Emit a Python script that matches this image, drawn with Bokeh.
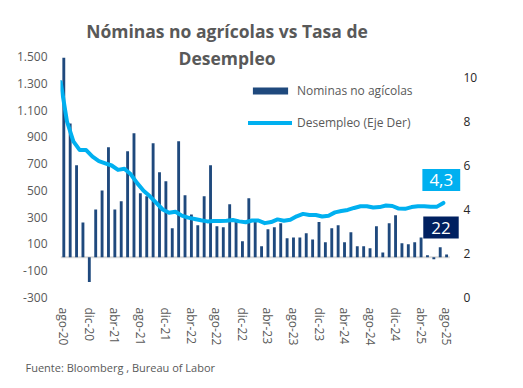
from bokeh.plotting import figure
from bokeh.models import (Range1d, LinearAxis, FixedTicker, Label, Legend, LegendItem, Title)
from bokeh.embed import file_html
from bokeh.resources import INLINE

# ---------------- data ----------------
month_abbr = ["ene", "feb", "mar", "abr", "may", "jun", "jul", "ago", "sep", "oct", "nov", "dic"]
months = [f"{month_abbr[(7 + k) % 12]}-{20 + (7 + k) // 12}" for k in range(61)]  # ago-20 .. ago-25

nominas = [1490, 1000, 687, 261, -184, 358, 500, 822, 358, 418,
           792, 926, 478, 456, 852, 635, 568, 217, 867, 463,
           320, 239, 456, 687, 232, 224, 396, 280, 120, 441,
           263, 82, 209, 224, 254, 142, 149, 149, 179, 134,
           263, 112, 217, 239, 112, 187, 82, 82, 67, 232,
           37, 254, 314, 105, 97, 112, 149, 15, -15, 75,
           22]

desempleo = [9.8, 8.0, 7.1, 6.7, 6.7, 6.4, 6.2, 6.1, 6.0, 5.8,
             5.85, 5.6, 5.2, 4.85, 4.6, 4.3, 4.0, 3.85, 3.9, 3.72,
             3.63, 3.57, 3.51, 3.46, 3.48, 3.48, 3.49, 3.52, 3.46, 3.42,
             3.5, 3.5, 3.38, 3.43, 3.55, 3.49, 3.53, 3.69, 3.8, 3.75,
             3.75, 3.68, 3.72, 3.87, 3.93, 3.98, 4.07, 4.15, 4.15, 4.09,
             4.11, 4.18, 4.16, 4.04, 4.03, 4.11, 4.15, 4.15, 4.12, 4.13,
             4.3]

left_ticks = [-300, -100, 100, 300, 500, 700, 900, 1100, 1300, 1500]
left_tick_labels = ["-300", "-100", "100", "300", "500", "700", "900", "1.100", "1.300", "1.500"]
right_ticks = [0, 2, 4, 6, 8, 10]
x_tick_labels = ["ago-20", "dic-20", "abr-21", "ago-21", "dic-21", "abr-22", "ago-22", "dic-22",
                 "abr-23", "ago-23", "dic-23", "abr-24", "ago-24", "dic-24", "abr-25", "ago-25"]

title_lines = ["Nóminas no agrícolas vs Tasa de", "Desempleo"]
footer = "Fuente: Bloomberg , Bureau of Labor"
legend_labels = ["Nominas no agícolas", "Desempleo (Eje Der)"]

BAR = "#1F497D"
LINE = "#00B0F0"
NAVY = "#002060"
GRAY = "#595959"
FONT = "Open Sans"

# ---------------- layout geometry (canvas px) ----------------
W, H = 523, 388
FL, FR, FT, FB = 60, 462, 4, 297       # frame edges
BAR0_PX, STEP_PX = 63.3, 6.38           # x pixel of first category, px per category
LEFT_PX_PER_UNIT = 241 / 1800           # left axis scale
RIGHT_PX_PER_UNIT = 22.0                # right axis scale

XMIN = (FL - BAR0_PX) / STEP_PX
XMAX = (FR - BAR0_PX) / STEP_PX
YMIN = -300
YMAX = YMIN + (FB - FT) / LEFT_PX_PER_UNIT
RMAX = (FB - FT) / RIGHT_PX_PER_UNIT


def dx(px):
    return XMIN + (px - FL) * (XMAX - XMIN) / (FR - FL)


def dy(py):
    return YMAX - (py - FT) * (YMAX - YMIN) / (FB - FT)


p = figure(width=W, height=H, output_backend="svg", toolbar_location=None,
           x_range=Range1d(XMIN, XMAX), y_range=Range1d(YMIN, YMAX),
           min_border_left=FL, min_border_right=W - FR, min_border_top=FT,
           min_border_bottom=H - FB)
p.extra_y_ranges = {"right": Range1d(0, RMAX)}
p.outline_line_color = None
p.xgrid.visible = False
p.ygrid.visible = False
p.background_fill_color = "white"
p.border_fill_color = "white"

idx = list(range(len(months)))

# zero baseline across the categories
p.line(x=[-0.5, len(months) - 0.5], y=[0, 0], line_color="#D9D9D9", line_width=2)
bars = p.vbar(x=idx, top=nominas, width=0.45, fill_color=BAR, line_color=None)
line = p.line(x=[i - 0.5 for i in idx], y=desempleo, y_range_name="right",
              line_color=LINE, line_width=4, line_cap="round", line_join="round")

# axes
xa = p.xaxis[0]
xa.ticker = FixedTicker(ticks=list(range(0, 61, 4)))
xa.major_label_overrides = {t: lab for t, lab in zip(range(0, 61, 4), x_tick_labels)}
xa.major_label_orientation = "vertical"
ya = p.yaxis[0]
ya.ticker = FixedTicker(ticks=left_ticks)
ya.major_label_overrides = {t: lab for t, lab in zip(left_ticks, left_tick_labels)}

ra = LinearAxis(y_range_name="right", ticker=FixedTicker(ticks=right_ticks))
p.add_layout(ra, "right")

for ax, col, standoff in ((xa, GRAY, 10), (ya, GRAY, 13), (ra, "#262626", 1)):
    ax.axis_line_color = None
    ax.major_tick_line_color = None
    ax.minor_tick_line_color = None
    ax.major_tick_out = 0
    ax.major_tick_in = 0
    ax.major_label_text_font = FONT
    ax.major_label_text_font_size = "12px"
    ax.major_label_text_color = col
    ax.major_label_standoff = standoff

# title (inside the frame area above the data)
tx = dx(226.5)
for txt, py in zip(title_lines, [30, 57]):
    p.add_layout(Label(x=tx, y=dy(py), text=txt, text_align="center", text_baseline="middle",
                       text_font=FONT, text_font_style="bold", text_font_size="17.5px",
                       text_color=GRAY))

# footer below the x axis
p.add_layout(Title(text=footer, align="left", offset=25 - FL, text_font=FONT,
                   text_font_size="11px", text_font_style="normal", text_color=GRAY,
                   standoff=19), "below")

# legend
legend = Legend(items=[LegendItem(label=legend_labels[0], renderers=[bars]),
                       LegendItem(label=legend_labels[1], renderers=[line])],
                location=(248 - FL, FB - 132), glyph_width=44, glyph_height=9, label_height=20,
                spacing=12, padding=0, margin=0, label_standoff=5,
                label_text_font=FONT, label_text_font_size="12px", label_text_color=GRAY,
                background_fill_alpha=0, border_line_color=None)
p.add_layout(legend)

# value boxes
last_u = f"{desempleo[-1]:.1f}".replace(".", ",")
last_n = f"{nominas[-1]}"
p.add_layout(Label(x=dx(440.8), y=dy(179.5), text=last_u, text_align="center",
                   text_baseline="middle", text_font=FONT, text_font_size="17px",
                   text_color="white", background_fill_color=LINE, padding=(7, 5)))
p.add_layout(Label(x=dx(440.5), y=dy(227), text=last_n, text_align="center",
                   text_baseline="middle", text_font=FONT, text_font_size="17px",
                   text_color="white", background_fill_color=NAVY, padding=(8, 5)))

open("out.html", "w").write(file_html(p, INLINE))
